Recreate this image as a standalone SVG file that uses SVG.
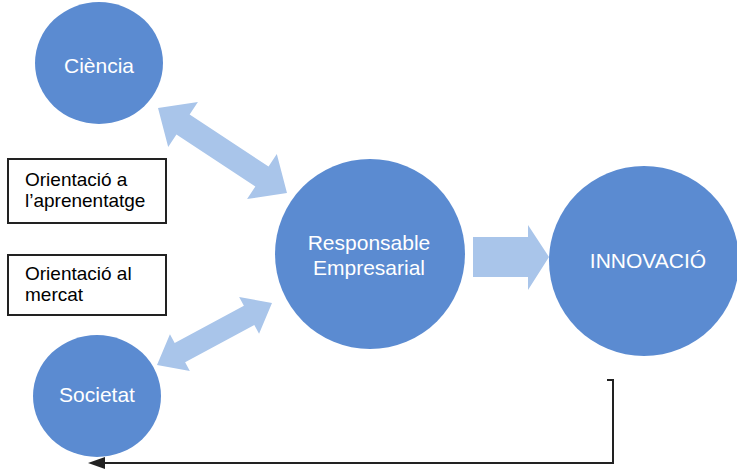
<svg xmlns="http://www.w3.org/2000/svg" width="737" height="469" viewBox="0 0 737 469">
<style>
.node{fill:#5b8bd1}
.lbl{font-family:"Liberation Sans",Arial,sans-serif;font-size:21px;fill:#ffffff;text-anchor:middle;dominant-baseline:central}
.box{fill:#ffffff;stroke:#222222;stroke-width:2}
.btxt{font-family:"Liberation Sans",Arial,sans-serif;font-size:19px;fill:#000000}
.arr{fill:#a9c5ea}
.line{fill:none;stroke:#222222;stroke-width:2}
</style>
<rect width="737" height="469" fill="#ffffff"/>
<g id="connectors">
<polygon class="arr" transform="translate(222.5,150.5) rotate(33.4)" points="-77.25,0 -47.25,-27 -47.25,-12 47.25,-12 47.25,-27 77.25,0 47.25,27 47.25,12 -47.25,12 -47.25,27"/>
<polygon class="arr" transform="translate(214.5,334) rotate(-28.3)" points="-65.3,0 -39.3,-21 -39.3,-11 39.3,-11 39.3,-21 65.3,0 39.3,21 39.3,11 -39.3,11 -39.3,21"/>
<polygon class="arr" points="473,237 528,237 528,225 549,257 528,290 528,277 473,277"/>
<path class="line" d="M607,380 L613,380 L613,463 L104,463"/>
<path d="M88,463 L105,457 L105,469 Z" fill="#222222"/>
</g>
<g id="ciencia">
<ellipse class="node" cx="99" cy="63" rx="64" ry="61"/>
<text class="lbl" x="99" y="65">Ciència</text>
</g>
<g id="societat">
<ellipse class="node" cx="97" cy="396" rx="64" ry="61"/>
<text class="lbl" x="97" y="394">Societat</text>
</g>
<g id="responsable">
<circle class="node" cx="370" cy="254" r="95"/>
<text class="lbl" x="369" y="242">Responsable</text>
<text class="lbl" x="369" y="267">Empresarial</text>
</g>
<g id="innovacio">
<circle class="node" cx="644" cy="261" r="95"/>
<text class="lbl" x="648" y="260">INNOVACIÓ</text>
</g>
<g id="box-aprenentatge">
<rect class="box" x="8" y="159" width="158" height="64"/>
<text class="btxt" x="25" y="186">Orientació a</text>
<text class="btxt" x="25" y="207">l’aprenentatge</text>
</g>
<g id="box-mercat">
<rect class="box" x="8" y="255" width="158" height="60"/>
<text class="btxt" x="25" y="280">Orientació al</text>
<text class="btxt" x="25" y="301">mercat</text>
</g>
</svg>
